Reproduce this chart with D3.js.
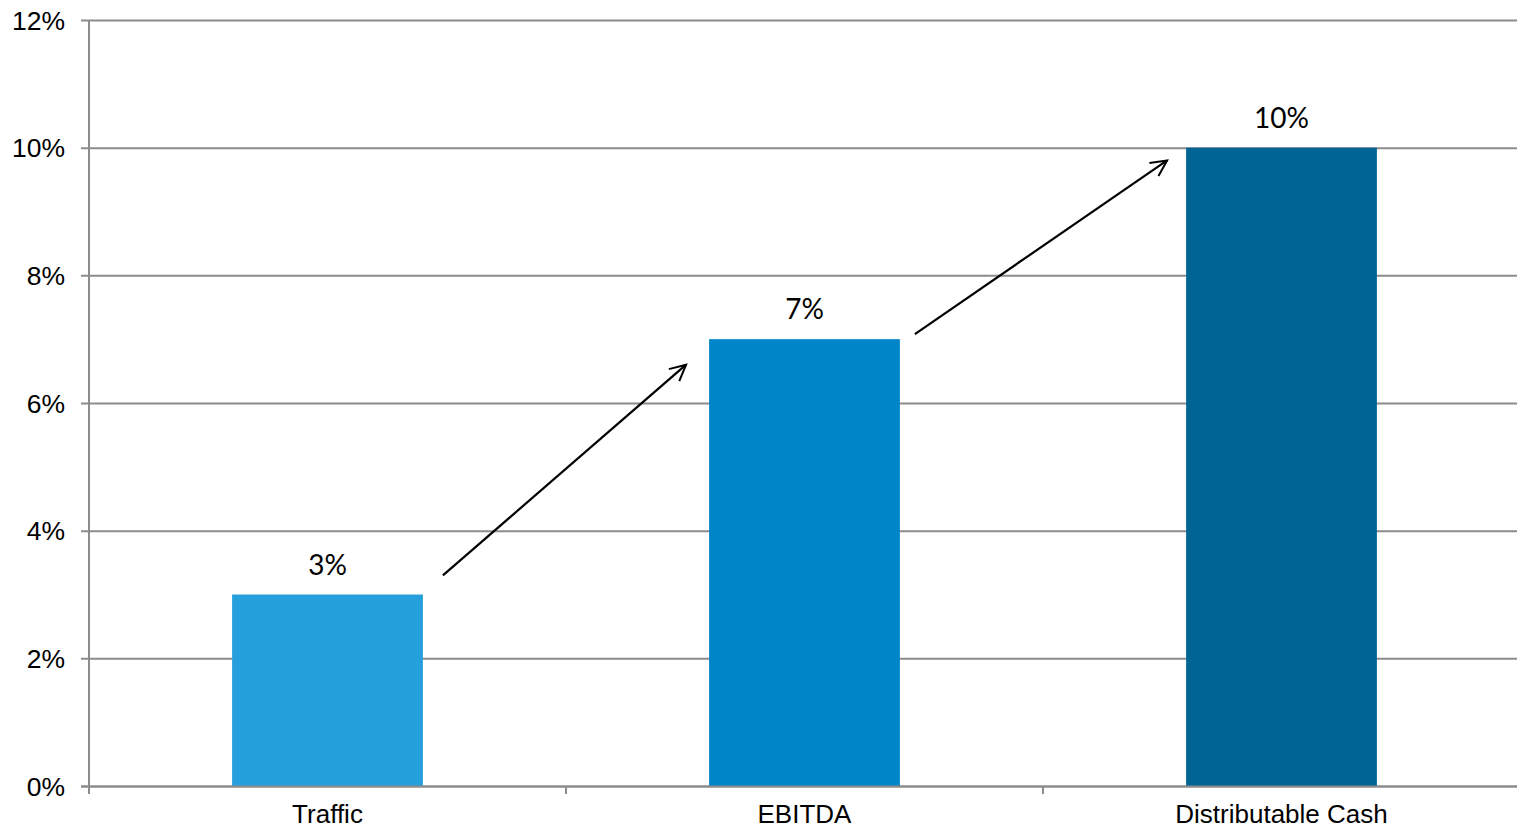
<!DOCTYPE html>
<html><head><meta charset="utf-8">
<script src="https://cdn.jsdelivr.net/npm/d3@7"></script>
<style>html,body{margin:0;padding:0;background:#fff;}svg{display:block;}</style>
</head><body>
<svg id="chart" width="1517" height="830"></svg>
<script>
const categories = ["Traffic", "EBITDA", "Distributable Cash"];
const values = [3, 7, 10];
const barColors = ["#25a0dc", "#0085c9", "#006595"];
const yTicks = [0, 2, 4, 6, 8, 10, 12];
// arrows: [fromCategory, fromValue, toCategory, toValue]
const arrowFrom = [["Traffic", 3.3], ["EBITDA", 7.08]];
const arrowTo = [["EBITDA", 6.6], ["Distributable Cash", 9.8]];
const arrowGap = [20, 15];
const arrowEndGap = [23, 19];

const svg = d3.select("#chart");
const m = {left: 89, right: 1517, top: 20, bottom: 786};
const x = d3.scaleBand().domain(categories).range([m.left, m.left + 3 * 477]).paddingInner(0.6).paddingOuter(0.3);
const y = d3.scaleLinear().domain([0, 12]).range([m.bottom, m.top]);
const grid = "#8c8c8c";

// grid lines
svg.append("g").selectAll("line").data(yTicks).join("line")
  .attr("x1", m.left - 8).attr("x2", m.right)
  .attr("y1", d => y(d) + 0.5).attr("y2", d => y(d) + 0.5)
  .attr("stroke", grid).attr("stroke-width", 2);
// y axis line
svg.append("line").attr("x1", m.left).attr("x2", m.left).attr("y1", m.top).attr("y2", m.bottom + 8)
  .attr("stroke", grid).attr("stroke-width", 2);
// y labels
svg.append("g").selectAll("text").data(yTicks).join("text")
  .attr("x", 65).attr("y", d => y(d)).attr("dy", "0.36em")
  .attr("text-anchor", "end")
  .attr("font-family", "Liberation Sans, Arial, sans-serif").attr("font-size", 26.5).attr("fill", "#000")
  .text(d => d + "%");

// bars
svg.append("g").selectAll("rect").data(values).join("rect")
  .attr("x", (d, i) => x(categories[i]))
  .attr("width", x.bandwidth())
  .attr("y", d => y(d))
  .attr("height", d => y(0) - y(d))
  .attr("fill", (d, i) => barColors[i]);

// baseline on top of bars
svg.append("line").attr("x1", m.left - 8).attr("x2", m.right).attr("y1", y(0) + 0.5).attr("y2", y(0) + 0.5)
  .attr("stroke", grid).attr("stroke-width", 2);
// x tick marks at category boundaries
const bounds = [0, 1, 2].map(i => m.left + i * x.step());
svg.append("g").selectAll("line").data(bounds).join("line")
  .attr("x1", d => d).attr("x2", d => d).attr("y1", y(0)).attr("y2", y(0) + 8)
  .attr("stroke", grid).attr("stroke-width", 2);

// x labels
svg.append("g").selectAll("text").data(categories).join("text")
  .attr("x", d => x(d) + x.bandwidth() / 2).attr("y", 823)
  .attr("text-anchor", "middle")
  .attr("font-family", "Liberation Sans, Arial, sans-serif").attr("font-size", 26).attr("fill", "#000")
  .text(d => d);

// data labels
svg.append("g").selectAll("text").data(values).join("text")
  .attr("x", (d, i) => x(categories[i]) + x.bandwidth() / 2)
  .attr("y", d => y(d) - 20)
  .attr("text-anchor", "middle")
  .attr("font-family", "Lato, 'Open Sans', sans-serif").attr("font-size", 28).attr("fill", "#000")
  .text(d => d + "%");

// arrows
const defs = svg.append("defs");
defs.append("marker").attr("id", "ah").attr("viewBox", "0 0 20 20").attr("refX", 18).attr("refY", 10)
  .attr("markerWidth", 20).attr("markerHeight", 20).attr("markerUnits", "userSpaceOnUse").attr("orient", "auto")
  .append("path").attr("d", "M2,2 L18,10 L2,18").attr("fill", "none").attr("stroke", "#000").attr("stroke-width", 2);
svg.append("g").selectAll("line").data(arrowFrom).join("line")
  .attr("x1", (d, i) => x(d[0]) + x.bandwidth() + arrowGap[i])
  .attr("y1", d => y(d[1]))
  .attr("x2", (d, i) => x(arrowTo[i][0]) - arrowEndGap[i])
  .attr("y2", (d, i) => y(arrowTo[i][1]))
  .attr("stroke", "#000").attr("stroke-width", 2.2)
  .attr("marker-end", "url(#ah)");
</script>
</body></html>
